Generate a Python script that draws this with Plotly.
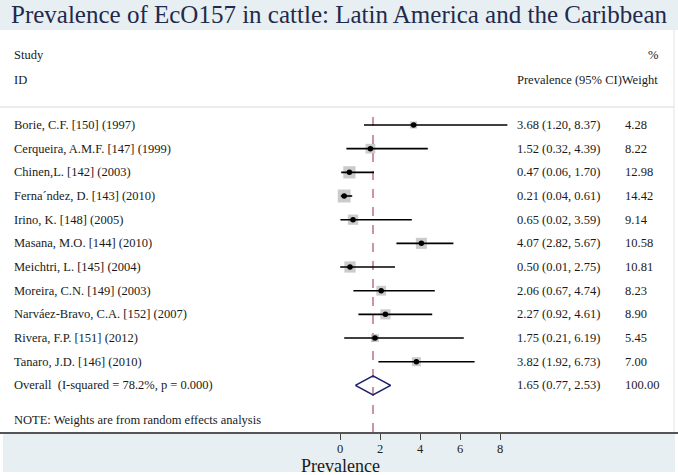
import plotly.graph_objects as go

studies = ["Borie, C.F. [150] (1997)", "Cerqueira, A.M.F. [147] (1999)", "Chinen,L. [142] (2003)",
           "Ferna\u00b4ndez, D. [143] (2010)", "Irino, K. [148] (2005)", "Masana, M.O. [144] (2010)",
           "Meichtri, L. [145] (2004)", "Moreira, C.N. [149] (2003)", "Narv\u00e1ez-Bravo, C.A. [152] (2007)",
           "Rivera, F.P. [151] (2012)", "Tanaro, J.D. [146] (2010)"]
est = [3.68, 1.52, 0.47, 0.21, 0.65, 4.07, 0.50, 2.06, 2.27, 1.75, 3.82]
lo = [1.20, 0.32, 0.06, 0.04, 0.02, 2.82, 0.01, 0.67, 0.92, 0.21, 1.92]
hi = [8.37, 4.39, 1.70, 0.61, 3.59, 5.67, 2.75, 4.74, 4.61, 6.19, 6.73]
weights = [4.28, 8.22, 12.98, 14.42, 9.14, 10.58, 10.81, 8.23, 8.90, 5.45, 7.00]
overall_label = "Overall  (I-squared = 78.2%, p = 0.000)"
overall = {"est": 1.65, "lo": 0.77, "hi": 2.53, "weight": 100.00}
xticks = [0, 2, 4, 6, 8]

W, H = 678, 475
FONT = "Liberation Serif, Times New Roman, serif"
rows = list(range(len(studies)))
ov_row = len(studies)

# pixel mapping helpers (layout only)
x0px, xscale = 340, 20.0
row0px, rowstep = 125, 23.67
axis_px = 432
def px(x):
    return x / W
def py(y):
    return 1 - y / H

fig = go.Figure()

# squares
fig.add_trace(go.Scatter(x=est, y=rows, mode="markers",
                         marker=dict(symbol="square", color="#b5b5b5",
                                     size=[3.4 * w ** 0.5 for w in weights], line=dict(width=0)),
                         hoverinfo="skip", showlegend=False))
# CI lines
xs, ys = [], []
for r, a, b in zip(rows, lo, hi):
    xs += [a, b, None]
    ys += [r, r, None]
fig.add_trace(go.Scatter(x=xs, y=ys, mode="lines", line=dict(color="black", width=1.6),
                         hoverinfo="skip", showlegend=False))
# dots
fig.add_trace(go.Scatter(x=est, y=rows, mode="markers",
                         marker=dict(symbol="circle", color="black", size=5.5),
                         hoverinfo="skip", showlegend=False))
# overall diamond
h = 0.40
fig.add_trace(go.Scatter(x=[overall["lo"], overall["est"], overall["hi"], overall["est"], overall["lo"]],
                         y=[ov_row, ov_row - h, ov_row, ov_row + h, ov_row],
                         mode="lines", line=dict(color="#1c1f6b", width=1.6),
                         hoverinfo="skip", showlegend=False))

shapes = []
# title band
shapes.append(dict(type="rect", xref="paper", yref="paper", x0=0, x1=1, y0=py(30), y1=1,
                   fillcolor="#e8eff2", line=dict(width=0), layer="below"))
# bottom band
shapes.append(dict(type="rect", xref="paper", yref="paper", x0=px(3), x1=px(675), y0=py(472), y1=py(axis_px),
                   fillcolor="#e8eff2", line=dict(width=0), layer="below"))
# header separator
shapes.append(dict(type="line", xref="paper", yref="paper", x0=0, x1=px(674), y0=py(107), y1=py(107),
                   line=dict(color="#d9d9d9", width=1)))
# right border
shapes.append(dict(type="line", xref="paper", yref="paper", x0=px(674), x1=px(674), y0=py(30), y1=py(axis_px),
                   line=dict(color="#e2e2e2", width=1)))
# dashed overall line
shapes.append(dict(type="line", xref="x", yref="paper", x0=overall["est"], x1=overall["est"],
                   y0=py(axis_px), y1=py(111), line=dict(color="#a8505e", width=1.2, dash="dash"),
                   layer="below"))

ann = []
tf = dict(family=FONT, size=12.5, color="#1a1a1a")
ann.append(dict(text="Prevalence of EcO157 in cattle: Latin America and the Caribbean",
                xref="paper", yref="paper", x=px(9), y=py(15), xanchor="left", yanchor="middle",
                showarrow=False, font=dict(family=FONT, size=25, color="#1f2a4d")))
ann.append(dict(text="Study", xref="paper", yref="paper", x=px(12), y=py(55), xanchor="left",
                yanchor="middle", showarrow=False, font=tf))
ann.append(dict(text="ID", xref="paper", yref="paper", x=px(12), y=py(80), xanchor="left",
                yanchor="middle", showarrow=False, font=tf))
ann.append(dict(text="%", xref="paper", yref="paper", x=px(646), y=py(55), xanchor="left",
                yanchor="middle", showarrow=False, font=tf))
ann.append(dict(text="Prevalence (95% CI)Weight", xref="paper", yref="paper", x=px(515), y=py(80),
                xanchor="left", yanchor="middle", showarrow=False, font=tf))
for r, s, e, a, b, w in zip(rows, studies, est, lo, hi, weights):
    ann.append(dict(text=s, xref="paper", yref="y", x=px(12), y=r, xanchor="left", yanchor="middle",
                    showarrow=False, font=tf))
    ann.append(dict(text=f"{e:.2f} ({a:.2f}, {b:.2f})", xref="paper", yref="y", x=px(515), y=r,
                    xanchor="left", yanchor="middle", showarrow=False, font=tf))
    ann.append(dict(text=f"{w:.2f}", xref="paper", yref="y", x=px(623), y=r, xanchor="left",
                    yanchor="middle", showarrow=False, font=tf))
ann.append(dict(text=overall_label, xref="paper", yref="y", x=px(12), y=ov_row, xanchor="left",
                yanchor="middle", showarrow=False, font=tf))
ann.append(dict(text=f"{overall['est']:.2f} ({overall['lo']:.2f}, {overall['hi']:.2f})", xref="paper",
                yref="y", x=px(515), y=ov_row, xanchor="left", yanchor="middle", showarrow=False, font=tf))
ann.append(dict(text=f"{overall['weight']:.2f}", xref="paper", yref="y", x=px(623), y=ov_row,
                xanchor="left", yanchor="middle", showarrow=False, font=tf))
ann.append(dict(text="NOTE: Weights are from random effects analysis", xref="paper", yref="paper",
                x=px(12), y=py(420), xanchor="left", yanchor="middle", showarrow=False, font=tf))
ann.append(dict(text="Prevalence", xref="paper", yref="paper", x=px(299), y=py(466), xanchor="left",
                yanchor="middle", showarrow=False, font=dict(family=FONT, size=18, color="#1a1a1a")))

fig.update_layout(
    width=W, height=H, margin=dict(l=0, r=0, t=0, b=0),
    paper_bgcolor="white", plot_bgcolor="rgba(0,0,0,0)",
    shapes=shapes, annotations=ann, showlegend=False,
    xaxis=dict(range=[-x0px / xscale, (W - x0px) / xscale], domain=[0, 1],
               tickvals=xticks, ticktext=[str(t) for t in xticks], ticks="outside", ticklen=6,
               tickcolor="#444", tickwidth=1.2, showline=True, linecolor="#555", linewidth=1.8,
               showgrid=False, zeroline=False, fixedrange=True, ticklabelstandoff=-2,
               tickfont=dict(family=FONT, size=12.5, color="#222222")),
    yaxis=dict(range=[(axis_px - row0px) / rowstep, -row0px / rowstep], domain=[(H - axis_px) / H, 1],
               showticklabels=False, showgrid=False, zeroline=False, showline=False, fixedrange=True),
)

fig.write_html("out.html", config={"displayModeBar": False},
               post_script="document.body.style.margin='0';document.body.style.overflow='hidden';")
